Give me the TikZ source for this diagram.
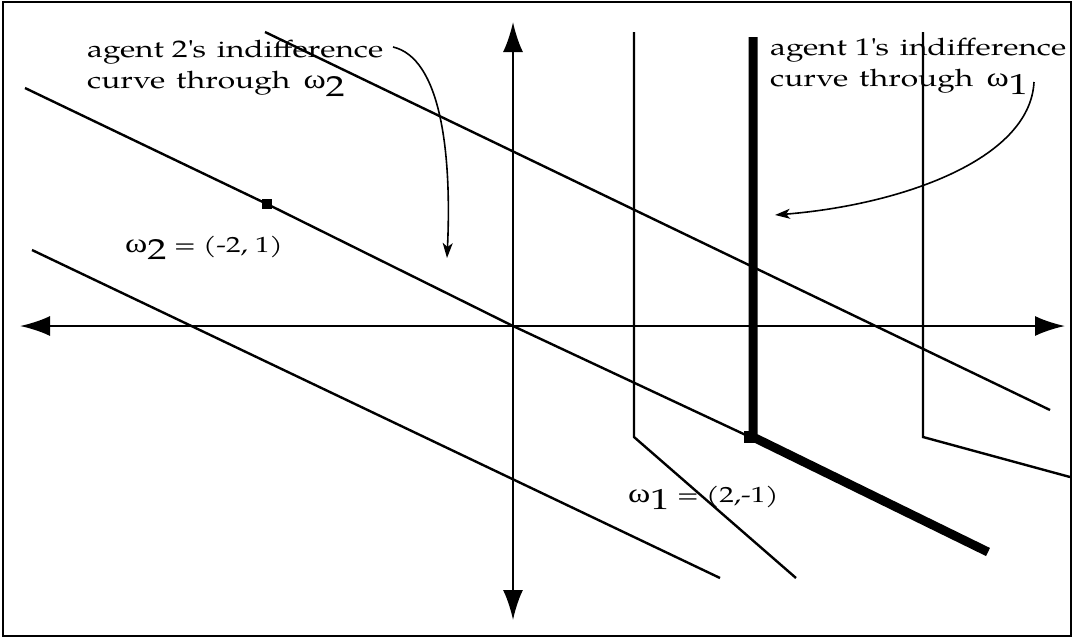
\documentclass[tikz,border=0pt]{standalone}
\usepackage{fontspec}
\setmainfont[FakeStretch=1.32]{TeX Gyre Pagella}
\newfontfamily\greekfont[FakeStretch=1.25]{Liberation Serif}
\usetikzlibrary{arrows.meta}

\newcommand{\omsub}[1]{{\greekfont\fontsize{27}{30}\selectfont ω}\raisebox{-0.33em}{\fontsize{29}{30}\selectfont #1}}

\begin{document}
\begin{tikzpicture}[x=1pt, y=-1pt,
    curve/.style={line width=2.4pt},
    axis/.style={line width=2.4pt, {Latex[length=30pt,width=20pt]}-{Latex[length=30pt,width=20pt]}},
    pointer/.style={line width=1.6pt, -{Stealth[length=15pt,width=10pt,inset=4pt]}},
    caption/.style={font=\fontsize{24}{31}\selectfont, anchor=north west, inner sep=0pt, align=left},
    endow/.style={font=\fontsize{22}{31}\selectfont, anchor=base west, inner sep=0pt}]

    % Cadre
    \useasboundingbox (0,0) rectangle (1075,641);
    \draw[line width=2.4pt] (3,2) rectangle (1071,636);

    % Points nommes
    \coordinate (O) at (513,326);
    \coordinate (w1) at (750,437);
    \coordinate (w2) at (267,204);

    % Axes
    \draw[axis] (20,326) -- (1065,326);
    \draw[axis] (513,22) -- (513,620);

    % Courbes d'indifference de l'agent 2 (droites paralleles)
    \draw[curve] (265,32) -- (1050,410);
    \draw[curve] (25,88) -- (w2) -- (O) -- (w1);
    \draw[curve] (32,250) -- (720,578);

    % Courbes d'indifference de l'agent 1 (coudees)
    \draw[curve] (634,32) -- (634,437) -- (796,578);
    \draw[curve] (923,32) -- (923,437) -- (1070,477);
    \draw[line width=9pt, miter limit=10] (753,37) -- (753,437) -- (988,552);

    % Dotations
    \fill (w2) ++(-5,-5) rectangle ++(10,10);
    \fill (w1) ++(-6,-6) rectangle ++(12,12);

    % Textes
    \node[caption] (lab2) at (87,40) {agent 2\textquotesingle s\hspace{0.45em}indifference\\curve\hspace{0.45em}through\hspace{0.55em}\omsub{2}};
    \node[caption] (lab1) at (770,38) {agent 1\textquotesingle s\hspace{0.45em}indifference\\curve\hspace{0.45em}through\hspace{0.55em}\omsub{1}};
    \node[endow] (e2) at (125,252) {\omsub{2} = (-2, 1)};
    \node[endow] (e1) at (628,502) {\omsub{1} = (2,-1)};

    % Renvois
    \draw[pointer] (393,47) .. controls (440,58) and (452,150) .. (447,258);
    \draw[pointer] (1034,82) .. controls (1030,160) and (900,205) .. (775,215);

\end{tikzpicture}
\end{document}
